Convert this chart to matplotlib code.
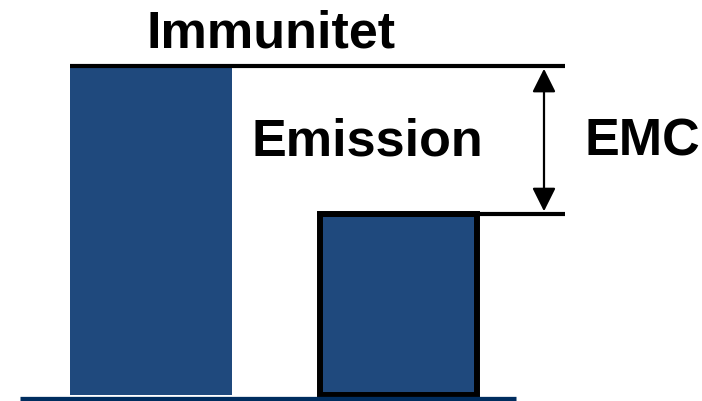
import numpy as np
import matplotlib.pyplot as plt
from matplotlib.patches import FancyArrowPatch

# levels relative to the baseline (immunity = 1)
labels = ['Immunitet', 'Emission']
levels = [1.0, 0.55]
margin_label = 'EMC'

W, H = 702, 402
fig = plt.figure(figsize=(W / 100, H / 100), dpi=100)
ax = fig.add_axes([0, 0, 1, 1])
ax.set_xlim(0, W)
# 0 -> 396 px from top, 1 -> 67 px from top
scale = 329.0
ax.set_ylim(-6 / scale, (H - 6) / scale)
ax.axis('off')

navy = '#1f497d'

# bars
ax.bar(151, levels[0], width=162, bottom=0, color=navy, edgecolor='none', zorder=2)
ax.bar(398.5, levels[1], width=157, bottom=0, color=navy, edgecolor='black',
       linewidth=4.3, zorder=2)

# baseline
ax.plot([20, 516], [-3.5 / scale, -3.5 / scale], color='#002d5f', linewidth=3.8,
        zorder=3, solid_capstyle='butt')

# level lines
ax.plot([70, 565], [levels[0], levels[0]], color='black', linewidth=3, zorder=3,
        solid_capstyle='butt')
ax.plot([317, 565], [levels[1], levels[1]], color='black', linewidth=3, zorder=3,
        solid_capstyle='butt')

# double arrow
arr = FancyArrowPatch((544, levels[0]), (544, levels[1]), arrowstyle='<|-|>',
                      mutation_scale=36, color='black', linewidth=1.6,
                      shrinkA=2, shrinkB=2, zorder=4)
ax.add_patch(arr)

font = dict(family='Liberation Sans', fontweight='bold', fontsize=37.5,
            ha='center', va='baseline')
ax.text(271, (396 - 47) / scale, labels[0], **font)
ax.text(367, (396 - 155) / scale, labels[1], **font)
ax.text(642, (396 - 155) / scale, margin_label, **font)

fig.savefig('out.png', dpi=100)
